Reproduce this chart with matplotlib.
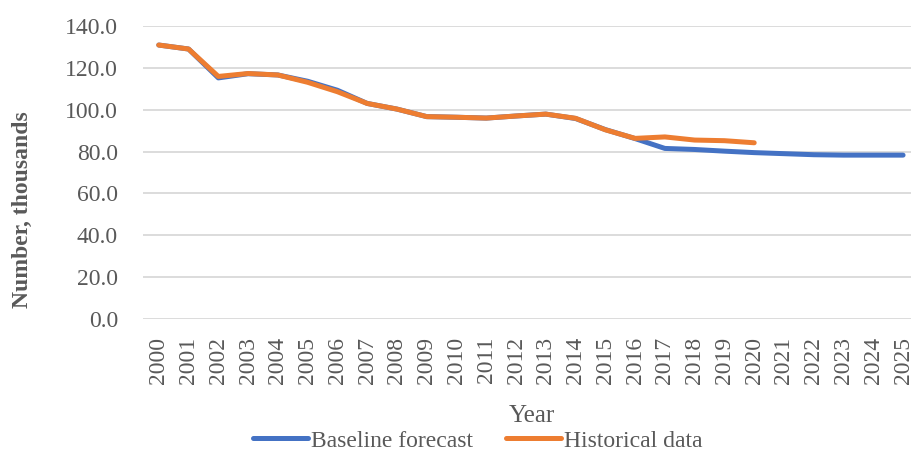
import matplotlib
matplotlib.use("Agg")
import matplotlib.pyplot as plt

# Years on the category axis
years = list(range(2000, 2026))
year_labels = [str(y) for y in years]

# Baseline forecast, 2000-2025 (thousands)
baseline = [130.9, 129.0, 115.2, 117.2, 116.6, 113.6, 109.3, 103.0, 100.3, 96.7,
            96.4, 96.0, 97.0, 97.9, 95.8, 90.5, 86.2, 81.5, 81.0, 80.2,
            79.5, 79.0, 78.5, 78.3, 78.3, 78.3]

# Historical data, 2000-2020 (thousands)
historical = [130.9, 129.0, 115.9, 117.3, 116.6, 113.1, 108.6, 103.0, 100.3, 96.7,
              96.4, 96.0, 97.0, 97.9, 95.9, 90.4, 86.3, 87.0, 85.5, 85.2,
              84.2]

y_ticks = [0, 20, 40, 60, 80, 100, 120, 140]

TEXT = "#595959"
GRID = "#D9D9D9"
BLUE = "#4472C4"
ORANGE = "#ED7D31"
FS = 17

plt.rcParams["font.family"] = ["Liberation Serif", "DejaVu Serif"]

fig = plt.figure(figsize=(9.12, 4.51), dpi=100)
ax = fig.add_axes([143 / 912, 1 - 319 / 451, 1 - 143 / 912, (319 - 26) / 451])

x_idx = list(range(len(years)))
ax.plot(x_idx, baseline, color=BLUE, lw=3.6, solid_capstyle="round",
        solid_joinstyle="round", label="Baseline forecast", zorder=3)
ax.plot(x_idx[:len(historical)], historical, color=ORANGE, lw=3.6,
        solid_capstyle="round", solid_joinstyle="round",
        label="Historical data", zorder=4)

ax.set_xlim(-0.53, 25.3)
ax.set_ylim(0, 140)
ax.set_yticks(y_ticks)
ax.set_yticklabels([f"{v:.1f}" for v in y_ticks])
ax.set_xticks(x_idx)
ax.set_xticklabels(year_labels, rotation=90)

ax.grid(axis="y", color=GRID, lw=1.3)
ax.set_axisbelow(True)
for s in ax.spines.values():
    s.set_visible(False)
ax.tick_params(axis="both", length=0, labelsize=FS, labelcolor=TEXT)
ax.tick_params(axis="y", pad=18)
ax.tick_params(axis="x", pad=13)

fig.text(532 / 912, 1 - 422 / 451, "Year", fontsize=18, color=TEXT,
         ha="center", va="baseline")
fig.text(22 / 912, 1 - 210 / 451, "Number, thousands", fontsize=FS,
         fontweight="bold", color=TEXT, rotation=90, ha="center", va="center")

fig.legend(loc="center", bbox_to_anchor=(478 / 912, 1 - 441 / 451), ncol=2,
           frameon=False, fontsize=FS, labelcolor=TEXT, handlelength=2.3,
           handletextpad=0.15, columnspacing=1.4, borderpad=0, borderaxespad=0)

fig.savefig("out.png", dpi=100)
